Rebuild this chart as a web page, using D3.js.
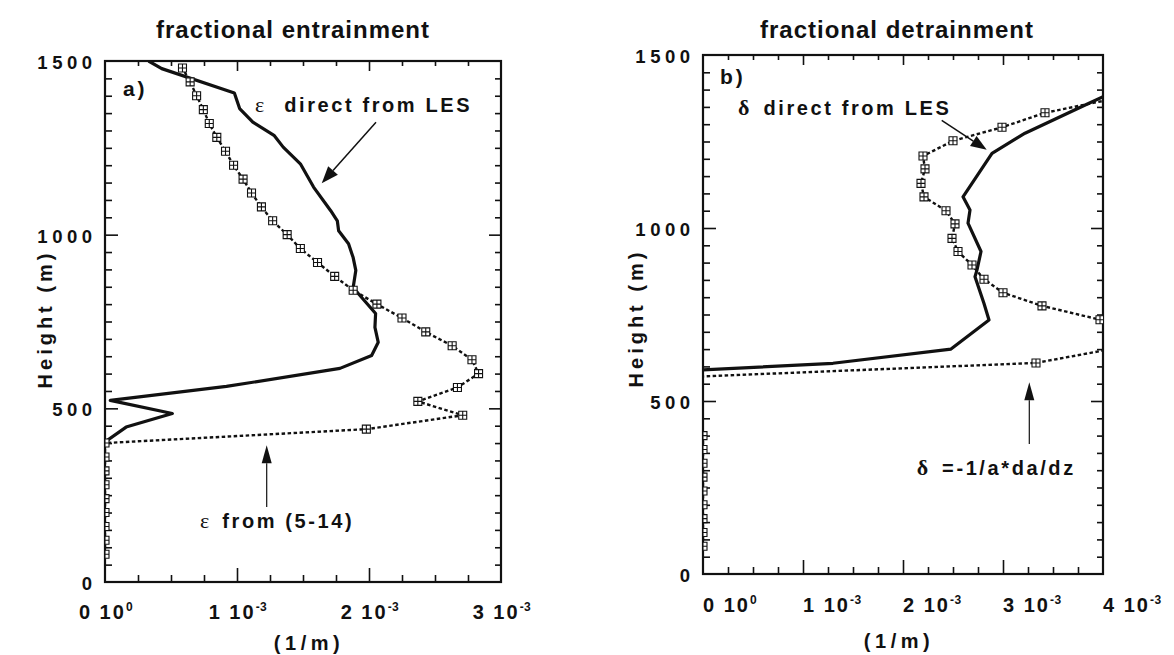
<!DOCTYPE html>
<html><head><meta charset="utf-8">
<script src="https://cdn.jsdelivr.net/npm/d3@7"></script>
<style>
body{margin:0;background:#fff;}
svg text{font-family:"Liberation Sans",Arial,sans-serif;font-weight:bold;fill:#111;}
</style>
</head><body>
<svg id="chart" width="1174" height="655"></svg>
<script>
// ---------- data (values in 1/m, heights in m) ----------
const heightTicks = [0, 500, 1000, 1500];
const xTicksA = [0, 1e-3, 2e-3, 3e-3];
const xTicksB = [0, 1e-3, 2e-3, 3e-3, 4e-3];
const xTickMantissa = ["0", "1", "2", "3", "4"];
const xTickExponent = ["0", "-3", "-3", "-3", "-3"];

// panel a: epsilon direct from LES (solid)
const entrLesHeight = [403, 446, 485, 523, 563, 615, 652, 690, 733, 773, 830, 848, 897, 934, 974, 1011, 1040, 1069, 1137, 1204, 1252, 1286, 1324, 1363, 1408, 1478, 1500];
const entrLesValue  = [0, 0.16e-3, 0.51e-3, 0.04e-3, 0.92e-3, 1.78e-3, 2.02e-3, 2.07e-3, 2.045e-3, 2.05e-3, 1.92e-3, 1.88e-3, 1.90e-3, 1.88e-3, 1.845e-3, 1.77e-3, 1.76e-3, 1.71e-3, 1.58e-3, 1.48e-3, 1.35e-3, 1.28e-3, 1.12e-3, 1.02e-3, 0.98e-3, 0.43e-3, 0.33e-3];

// panel a: epsilon from (5-14) (dotted with squares)
const entrModelHeight = [80, 120, 160, 200, 240, 280, 320, 360, 400, 440, 480, 520, 560, 600, 640, 680, 720, 760, 800, 840, 880, 920, 960, 1000, 1040, 1080, 1120, 1160, 1200, 1240, 1280, 1320, 1360, 1400, 1440, 1480];
const entrModelValue  = [0, 0, 0, 0, 0, 0, 0, 0, 0, 1.98e-3, 2.71e-3, 2.37e-3, 2.67e-3, 2.83e-3, 2.78e-3, 2.63e-3, 2.43e-3, 2.25e-3, 2.06e-3, 1.88e-3, 1.74e-3, 1.61e-3, 1.48e-3, 1.38e-3, 1.27e-3, 1.185e-3, 1.11e-3, 1.046e-3, 0.974e-3, 0.913e-3, 0.847e-3, 0.79e-3, 0.745e-3, 0.694e-3, 0.645e-3, 0.587e-3];

// panel b: delta direct from LES (solid)
const detrLesHeight = [590, 609, 650, 734, 782, 859, 879, 932, 1014, 1052, 1090, 1216, 1274, 1351, 1390];
const detrLesValue  = [0, 1.3e-3, 2.48e-3, 2.86e-3, 2.81e-3, 2.72e-3, 2.74e-3, 2.78e-3, 2.65e-3, 2.67e-3, 2.60e-3, 2.89e-3, 3.22e-3, 3.79e-3, 4.08e-3];

// panel b: delta = -1/a * da/dz (dotted with squares); negative values fall outside the frame
const detrModelHeight = [80, 120, 160, 200, 240, 280, 320, 360, 400, 440, 490, 530, 570, 610, 650, 690, 735, 775, 813, 852, 893, 932, 970, 1012, 1050, 1090, 1129, 1171, 1208, 1252, 1291, 1333, 1373];
const detrModelValue  = [0, 0, 0, 0, 0, 0, 0, 0, 0, -1.0e-3, -1.4e-3, -0.9e-3, -0.1e-3, 3.33e-3, 4.08e-3, 4.6e-3, 3.97e-3, 3.39e-3, 3.00e-3, 2.81e-3, 2.69e-3, 2.55e-3, 2.49e-3, 2.52e-3, 2.43e-3, 2.21e-3, 2.18e-3, 2.22e-3, 2.20e-3, 2.50e-3, 2.99e-3, 3.42e-3, 4.1e-3];

// ---------- drawing ----------
const svg = d3.select("#chart");
svg.append("rect").attr("width", 1174).attr("height", 655).attr("fill", "#fff");
const defs = svg.append("defs");
const squareMarker = "M-4,-4H4V4H-4Z M0,-4V4 M-4,0H4";

function zipSeries(hs, vs) { return hs.map((h, i) => ({h: h, v: vs[i]})); }

function drawPanel(cfg) {
  const g = svg.append("g").attr("transform", `translate(${cfg.left},${cfg.top})`);
  const w = cfg.width, h = cfg.height;
  const x = d3.scaleLinear().domain([0, cfg.xMax]).range([0, w]);
  const y = d3.scaleLinear().domain([0, 1500]).range([h, 0]);

  const clipId = "clip-" + cfg.id;
  defs.append("clipPath").attr("id", clipId).append("rect").attr("width", w).attr("height", h);

  const xMinor = d3.range(0, cfg.xMax + 1e-9, 0.25e-3).filter(v => v > 1e-9 && v < cfg.xMax - 1e-9 && Math.abs(v / 1e-3 - Math.round(v / 1e-3)) > 1e-6);
  const xMajor = cfg.xTicks.filter(v => v > 1e-9 && v < cfg.xMax - 1e-9);
  const yMinor = d3.range(50, 1500, 50).filter(v => v % 500 !== 0);
  const yMajor = [500, 1000];

  function tickAxis(axis, vals, size, transform) {
    const a = g.append("g").attr("transform", transform || null)
      .call(axis.tickValues(vals).tickSize(size).tickFormat(""));
    a.select(".domain").remove();
    a.selectAll("line").attr("stroke", "#111").attr("stroke-width", 1.6);
  }
  tickAxis(d3.axisBottom(x), xMinor, -7, `translate(0,${h})`);
  tickAxis(d3.axisBottom(x), xMajor, -14, `translate(0,${h})`);
  tickAxis(d3.axisTop(x), xMinor, -5);
  tickAxis(d3.axisTop(x), xMajor, -10);
  tickAxis(d3.axisLeft(y), yMinor, -7);
  tickAxis(d3.axisLeft(y), yMajor, -13);
  tickAxis(d3.axisRight(y), yMinor, -6, `translate(${w},0)`);
  tickAxis(d3.axisRight(y), yMajor, -12, `translate(${w},0)`);

  g.append("rect").attr("width", w).attr("height", h)
    .attr("fill", "none").attr("stroke", "#111").attr("stroke-width", 2.2);

  // y tick labels (letter-spaced)
  g.selectAll(".ylab").data(heightTicks).enter().append("text")
    .attr("x", -13 + 4.5).attr("y", d => y(d) + 8)
    .attr("text-anchor", "end").attr("font-size", 18.5).attr("letter-spacing", "4.5px")
    .text(d => d);

  // x tick labels with superscript exponents
  cfg.xTicks.forEach((v, i) => {
    const t = g.append("text")
      .attr("x", x(v) + cfg.xLabelShift)
      .attr("y", h + cfg.xLabelDy)
      .attr("text-anchor", cfg.xLabelAnchor)
      .attr("font-size", 20).attr("letter-spacing", "2px");
    t.append("tspan").text(xTickMantissa[i] + " 10");
    t.append("tspan").attr("dy", -8).attr("font-size", 12).attr("letter-spacing", "0.5px").text(xTickExponent[i]);
  });

  // axis titles
  g.append("text").attr("x", w / 2 + cfg.unitShift).attr("y", h + cfg.unitDy)
    .attr("text-anchor", "middle").attr("font-size", 20).attr("letter-spacing", "4.5px").text("(1/m)");
  g.append("text")
    .attr("transform", `translate(${cfg.heightLabelX},${cfg.heightLabelY}) rotate(-90)`)
    .attr("text-anchor", "middle").attr("font-size", 20).attr("letter-spacing", "4px").text("Height (m)");
  g.append("text").attr("x", w / 2 + cfg.titleShift).attr("y", 38 - cfg.top)
    .attr("text-anchor", "middle").attr("font-size", 24).attr("letter-spacing", "1px").text(cfg.title);

  // data
  const plot = g.append("g").attr("clip-path", `url(#${clipId})`);
  const line = d3.line().x(d => x(d.v)).y(d => y(d.h));
  const model = zipSeries(cfg.modelH, cfg.modelV);
  const les = zipSeries(cfg.lesH, cfg.lesV);
  plot.append("path").datum(model).attr("d", line)
    .attr("fill", "none").attr("stroke", "#111").attr("stroke-width", 2.4).attr("stroke-dasharray", "3.5,2.5");
  plot.append("path").datum(les).attr("d", line)
    .attr("fill", "none").attr("stroke", "#111").attr("stroke-width", 3.2).attr("stroke-linejoin", "round");
  plot.selectAll(".sq").data(model).enter().append("path")
    .attr("d", squareMarker)
    .attr("transform", d => `translate(${x(d.v)},${y(d.h)})`)
    .attr("fill", "#fff").attr("stroke", "#111").attr("stroke-width", 1.1);

  return {g, x, y};
}

function arrow(g, x1, y1, x2, y2, width, headLen, headW) {
  const ang = Math.atan2(y2 - y1, x2 - x1);
  const bx = x2 - headLen * Math.cos(ang), by = y2 - headLen * Math.sin(ang);
  g.append("line").attr("x1", x1).attr("y1", y1).attr("x2", bx).attr("y2", by)
    .attr("stroke", "#111").attr("stroke-width", width);
  const px = -Math.sin(ang) * headW, py = Math.cos(ang) * headW;
  g.append("path").attr("d", `M${x2},${y2}L${bx + px},${by + py}L${bx - px},${by - py}Z`).attr("fill", "#111");
}

function label(g, x, y, symbol, rest, gap, boldSymbol) {
  const t = g.append("text").attr("x", x).attr("y", y).attr("font-size", 20).attr("letter-spacing", "2.6px");
  t.append("tspan").attr("font-family", "Liberation Serif, serif")
    .attr("font-weight", boldSymbol ? "bold" : "normal").attr("font-size", 22).attr("letter-spacing", "0px").text(symbol);
  t.append("tspan").attr("dx", gap).text(rest);
}

// ----- panel a -----
const A = drawPanel({
  id: "a", left: 105, top: 61, width: 396, height: 521, xMax: 3e-3, xTicks: xTicksA,
  xLabelAnchor: "middle", xLabelShift: 1, xLabelDy: 37, unitShift: 6, unitDy: 68,
  heightLabelX: -53, heightLabelY: 258, title: "fractional entrainment", titleShift: -10,
  lesH: entrLesHeight, lesV: entrLesValue, modelH: entrModelHeight, modelV: entrModelValue
});
A.g.append("text").attr("x", A.x(0.136e-3)).attr("y", A.y(1399)).attr("font-size", 21).attr("letter-spacing", "3px").text("a)");
label(A.g, A.x(1.136e-3), A.y(1354), "ε", "direct from LES", 20, false);
arrow(A.g, A.x(2.053e-3), A.y(1324), A.x(1.642e-3), A.y(1148), 1.5, 17, 6.5);
label(A.g, A.x(0.72e-3), A.y(155), "ε", "from (5-14)", 13, false);
arrow(A.g, A.x(1.225e-3), A.y(216), A.x(1.225e-3), A.y(394), 1.2, 18, 5);

// ----- panel b -----
const B = drawPanel({
  id: "b", left: 703, top: 55, width: 400, height: 519, xMax: 4e-3, xTicks: xTicksB,
  xLabelAnchor: "start", xLabelShift: 0, xLabelDy: 38, unitShift: -4, unitDy: 74,
  heightLabelX: -60, heightLabelY: 263, title: "fractional detrainment", titleShift: -6,
  lesH: detrLesHeight, lesV: detrLesValue, modelH: detrModelHeight, modelV: detrModelValue
});
B.g.append("text").attr("x", B.x(0.17e-3)).attr("y", B.y(1415)).attr("font-size", 21).attr("letter-spacing", "3px").text("b)");
label(B.g, B.x(0.35e-3), B.y(1328), "δ", "direct from LES", 14, true);
arrow(B.g, B.x(2.387e-3), B.y(1311), B.x(2.837e-3), B.y(1226), 1.5, 16, 6);
label(B.g, B.x(2.137e-3), B.y(285), "δ", "=-1/a*da/dz", 14, true);
arrow(B.g, B.x(3.263e-3), B.y(376), B.x(3.263e-3), B.y(554), 1.2, 18, 5);
</script>
</body></html>
